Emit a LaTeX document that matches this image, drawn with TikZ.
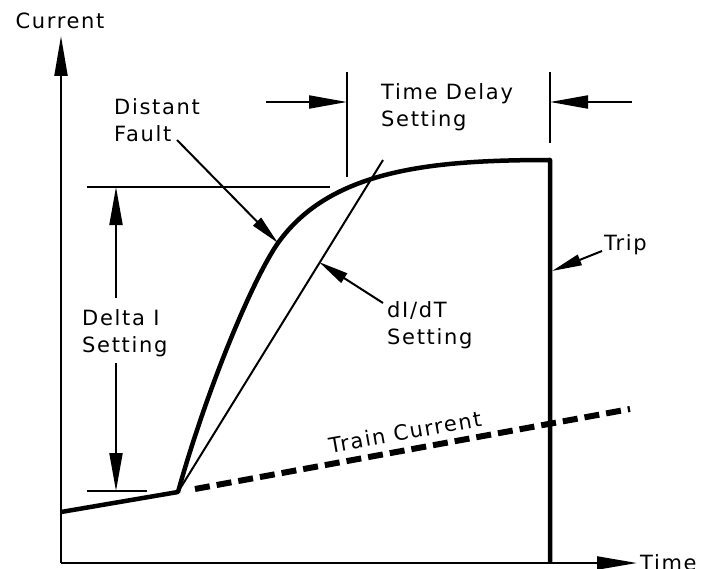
\documentclass[tikz,border=0pt]{standalone}
\usepackage{fontspec}
\setmainfont{DejaVu Sans}[LetterSpace=8]
\usetikzlibrary{arrows.meta}
\begin{document}
\begin{tikzpicture}[x=1pt,y=-1pt,
  lbl/.style={inner sep=0pt,align=left,font=\fontsize{21}{26.5}\selectfont},
  axis/.style={line width=2.2pt,-{Triangle[length=40pt,width=13pt]}},
  bigarrow/.style={line width=2pt,-{Triangle[length=38pt,width=13pt]}},
  smallarrow/.style={line width=2pt,-{Triangle[length=30pt,width=11pt]}},
  thinline/.style={line width=2pt},
  heavy/.style={line width=4.5pt,line join=round},
  traindash/.style={line width=6pt,dash pattern=on 15pt off 7pt}]
\useasboundingbox (0,0) rectangle (711,569);
% coordinates
\coordinate (O) at (61,563);
\coordinate (ytip) at (61,36);
\coordinate (xtip) at (637,563);
\coordinate (start) at (61,512);
\coordinate (kink) at (178,492);
\coordinate (bend) at (278,243);
\coordinate (plat) at (550,160);
\coordinate (tripfoot) at (550,563);
\coordinate (dashA) at (195,489);
\coordinate (dashB) at (630,409);
\coordinate (slopeTop) at (383,160);
\coordinate (dTopL) at (87,187);
\coordinate (dTopR) at (330,187);
\coordinate (dBotL) at (87,491);
\coordinate (dBotR) at (147,491);
\coordinate (dUp) at (116,298);
\coordinate (dUpTip) at (116,187);
\coordinate (dDn) at (116,363);
\coordinate (dDnTip) at (116,491);
\coordinate (tdLa) at (347,72);
\coordinate (tdLb) at (347,177);
\coordinate (tdRa) at (550,72);
\coordinate (tdRb) at (550,143);
\coordinate (tdArL) at (266,102);
\coordinate (tdTipL) at (347,102);
\coordinate (tdArR) at (632,102);
\coordinate (tdTipR) at (550,102);
\coordinate (dfTail) at (177,140);
\coordinate (dfTip) at (278,243);
\coordinate (diTail) at (383,303);
\coordinate (diTip) at (319,262);
\coordinate (trTail) at (602,251);
\coordinate (trTip) at (552,271);
% labels
\node[lbl] (current) at (60,21) {Current};
\node[lbl,anchor=west] (time) at (640,563) {Time};
\node[lbl,anchor=west] (distant) at (114,120) {Distant\\Fault};
\node[lbl,anchor=west] (delay) at (381,107) {Time Delay\\Setting};
\node[lbl,anchor=west] (deltaI) at (82,333) {Delta I\\Setting};
\node[lbl,anchor=west] (didt) at (387,325) {dI/dT\\Setting};
\node[lbl,anchor=west] (trip) at (604,245) {Trip};
\node[lbl,rotate=10] (train) at (405,432) {Train Current};
% axes
\draw[axis] (O) -- (ytip);
\draw[axis] (O) -- (xtip);
% train current
\draw[traindash] (dashA) -- (dashB);
% fault curve
\draw[heavy] (start) -- (kink) .. controls (208,385) and (254,277) .. (bend)
  .. controls (330,170) and (430,160) .. (plat) -- (tripfoot);
% di/dt line
\draw[thinline] (kink) -- (slopeTop);
% delta I
\draw[thinline] (dTopL) -- (dTopR);
\draw[thinline] (dBotL) -- (dBotR);
\draw[bigarrow] (dUp) -- (dUpTip);
\draw[bigarrow] (dDn) -- (dDnTip);
% time delay
\draw[thinline] (tdLa) -- (tdLb);
\draw[thinline] (tdRa) -- (tdRb);
\draw[bigarrow] (tdArL) -- (tdTipL);
\draw[bigarrow] (tdArR) -- (tdTipR);
% leaders
\draw[smallarrow] (dfTail) -- (dfTip);
\draw[smallarrow] (diTail) -- (diTip);
\draw[smallarrow] (trTail) -- (trTip);
\end{tikzpicture}
\end{document}
